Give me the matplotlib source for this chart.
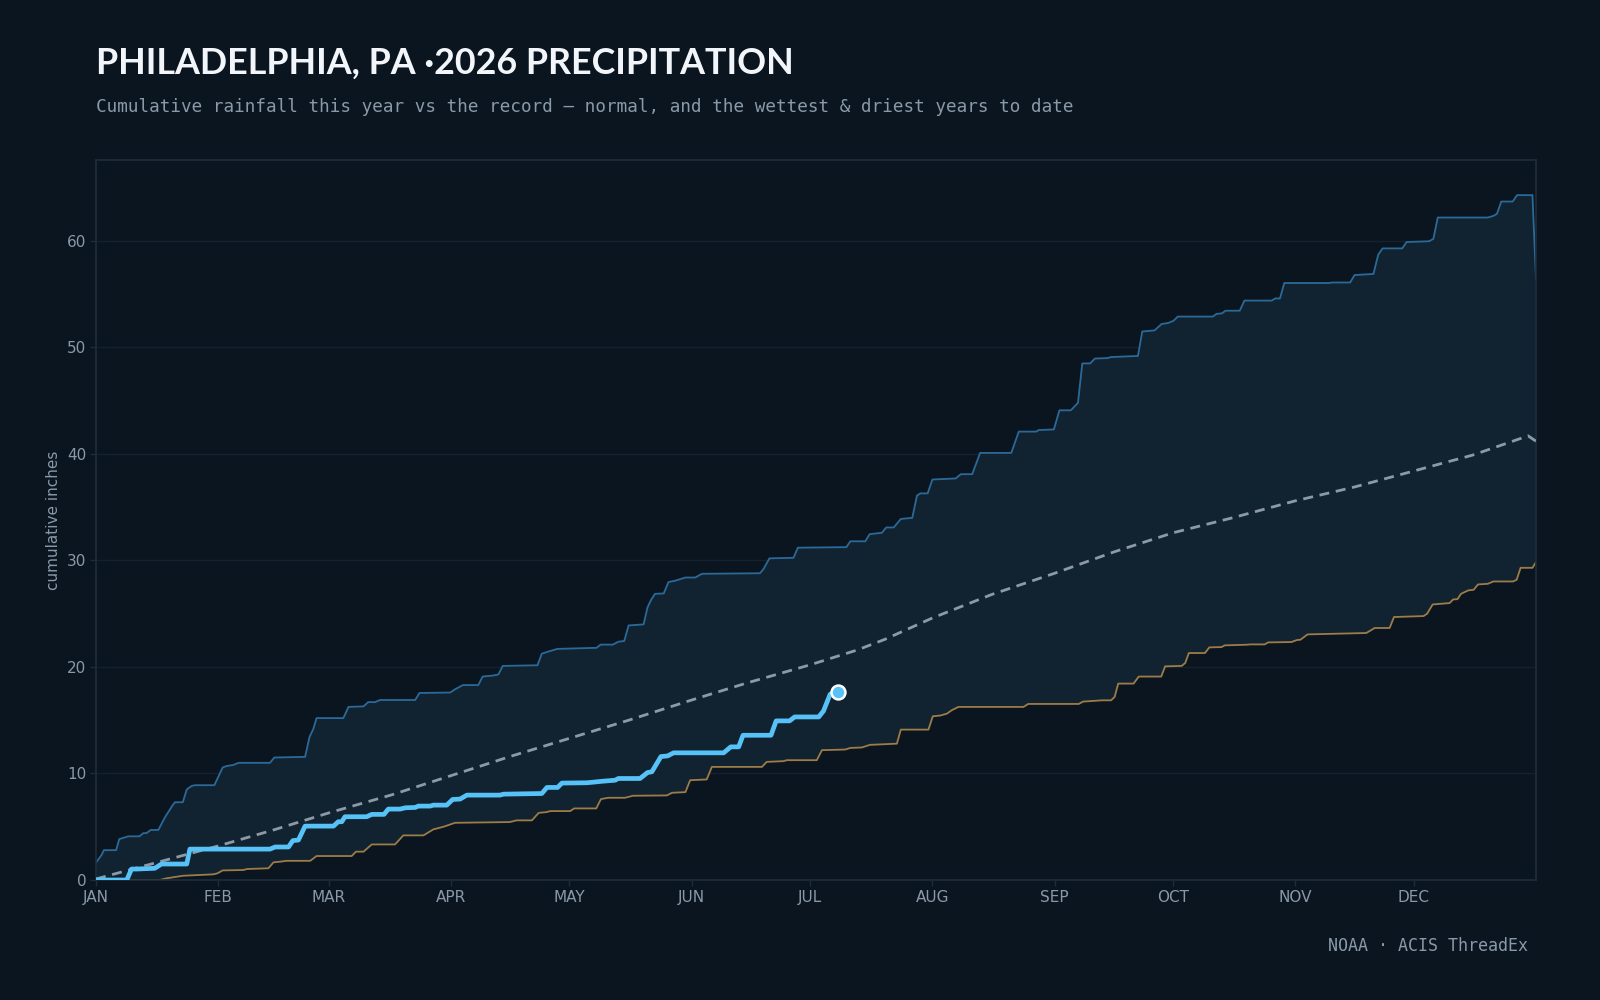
import matplotlib
matplotlib.use("Agg")
import matplotlib.pyplot as plt

# wettest year to date (record high cumulative), inches
wet_day = [0, 1.4, 2.0, 5.1, 5.9, 7.35, 8.2, 11.0, 12.0, 12.8, 13.9, 15.8, 17.5, 19.4, 20.0, 22.0,
           23.0, 24.3, 25.1, 30.0, 32.1, 33.1, 34.8, 36.1, 44.1, 45.2, 53.0, 54.1, 55.1, 55.9, 62.7,
           64.0, 67.8, 69.0, 70.7, 72.0, 80.9, 82.0, 89.8, 91.0, 93.0, 96.9, 98.0, 100.7, 102.0,
           103.1, 111.9, 113.0, 114.3, 115.1, 117.0, 126.9, 127.9, 131.0, 132.4, 133.9, 135.0,
           138.8, 139.8, 140.7, 141.7, 143.9, 145.1, 146.8, 149.4, 151.9, 153.6, 168.3, 169.2,
           170.7, 176.8, 177.9, 190.2, 191.2, 195.0, 196.1, 199.2, 200.3, 202.2, 204.0, 206.9,
           208.1, 209.0, 210.8, 212.0, 217.9, 219.2, 222.1, 224.1, 232.0, 233.9, 238.3, 239.0,
           242.8, 244.2, 247.1, 248.9, 250.0, 252.0, 253.2, 256.4, 257.3, 264.1, 265.2, 268.3,
           270.1, 271.8, 273.1, 274.2, 283.1, 284.0, 285.4, 286.3, 289.9, 291.1, 298.0, 298.9,
           300.1, 301.2, 312.5, 313.4, 317.9, 319.0, 323.8, 325.0, 326.1, 331.1, 332.2, 337.9,
           339.0, 340.1, 352.8, 354.2, 355.1, 356.2, 359.1, 360.2, 364.1, 365.0]
wet_in = [1.63, 2.34, 2.8, 2.8, 3.84, 4.0, 4.1, 4.1, 4.4, 4.4, 4.7, 4.7, 5.9, 7.0, 7.3, 7.3,
          8.5, 8.84, 8.9, 8.9, 10.56, 10.7, 10.8, 11.0, 11.0, 11.5, 11.56, 13.4, 14.2, 15.2, 15.2,
          16.25, 16.3, 16.7, 16.7, 16.9, 16.9, 17.56, 17.6, 17.9, 18.3, 18.3, 19.1, 19.2, 19.3,
          20.1, 20.16, 21.25, 21.4, 21.5, 21.7, 21.8, 22.1, 22.1, 22.37, 22.44, 23.9,
          24.0, 25.6, 26.3, 26.87, 26.9, 27.97, 28.1, 28.4, 28.4, 28.75, 28.8, 29.2,
          30.2, 30.25, 31.2, 31.25, 31.8, 31.8, 32.47, 32.6, 33.1, 33.1, 33.9, 34.0,
          36.1, 36.3, 36.3, 37.6, 37.7, 38.1, 38.1, 40.1, 40.1, 42.1, 42.1, 42.25,
          42.3, 44.1, 44.1, 44.8, 48.5, 48.5, 48.96, 49.0, 49.1, 49.2, 51.5, 51.6,
          52.2, 52.3, 52.5, 52.9, 52.9, 53.15, 53.2, 53.45, 53.45, 54.4, 54.4, 54.6,
          54.6, 56.05, 56.05, 56.1, 56.1, 56.8, 56.9, 58.7, 59.3, 59.3, 59.9, 59.97,
          60.2, 62.2, 62.2, 62.35, 62.55, 63.7, 63.7, 64.3, 64.3, 56.4]

# driest year to date (record low cumulative)
dry_day = [0, 16.2, 17.9, 22.1, 29.7, 30.8, 32.1, 37.4, 38.2, 43.7, 45.0, 46.7, 48.3, 54.3, 55.9,
           64.8, 65.9, 67.8, 69.9, 75.8, 77.9, 83.0, 85.5, 88.1, 91.0, 104.9, 106.6, 110.5, 112.2,
           114.3, 115.1, 120.2, 121.2, 126.8, 128.0, 129.9, 134.1, 136.1, 144.7, 146.0, 149.4,
           150.6, 154.8, 156.1, 168.8, 170.0, 174.3, 175.1, 182.7, 184.0, 189.9, 191.2, 194.1,
           196.2, 203.0, 204.0, 211.0, 212.1, 214.0, 215.7, 216.9, 218.6, 235.1, 236.3, 249.1,
           250.2, 255.0, 257.3, 258.2, 259.1, 263.0, 264.3, 270.0, 271.0, 275.2, 276.1, 277.0,
           281.1, 282.2, 285.3, 286.1, 291.7, 292.6, 296.2, 297.1, 303.0, 304.4, 305.3, 307.1,
           322.0, 324.1, 327.9, 329.0, 336.5, 337.4, 338.8, 343.1, 344.0, 345.1, 346.0, 347.8,
           349.2, 350.3, 352.8, 354.2, 359.2, 360.1, 361.1, 364.1, 365.0]
dry_in = [0, 0, 0.16, 0.4, 0.53, 0.63, 0.9, 0.94, 1.03, 1.1, 1.66, 1.72, 1.8, 1.8, 2.25,
          2.25, 2.66, 2.66, 3.34, 3.34, 4.19, 4.19, 4.75, 5.0, 5.37, 5.44, 5.6, 5.6, 6.3,
          6.38, 6.47, 6.47, 6.72, 6.72, 7.6, 7.72, 7.72, 7.91, 7.94, 8.19, 8.25,
          9.37, 9.44, 10.62, 10.62, 11.09, 11.16, 11.25, 11.25, 12.19, 12.25, 12.4, 12.44,
          12.69, 12.8, 14.12, 14.12, 15.37, 15.44, 15.62, 15.94, 16.25, 16.25, 16.53, 16.53,
          16.75, 16.87, 16.87, 17.19, 18.44, 18.44, 19.1, 19.1, 20.06, 20.1, 20.38, 21.31,
          21.31, 21.84, 21.87, 22.03, 22.09, 22.12, 22.12, 22.31, 22.34, 22.53, 22.56, 23.06,
          23.19, 23.66, 23.66, 24.69, 24.78, 25.0, 25.87, 26.0, 26.34, 26.37, 26.87, 27.19,
          27.25, 27.75, 27.81, 28.03, 28.03, 28.19, 29.31, 29.31, 29.84]

# normal cumulative precipitation
norm_day = [0, 15, 31, 45, 59, 75, 90, 105, 120, 135, 151, 165, 181, 193, 200, 212, 227, 243,
            258, 273, 288, 304, 319, 334, 349, 363, 365]
norm_in = [0.1, 1.6, 3.2, 4.7, 6.3, 8.0, 9.8, 11.6, 13.3, 15.0, 16.9, 18.5, 20.2, 21.6, 22.6,
           24.6, 26.8, 28.8, 30.8, 32.6, 34.0, 35.6, 36.9, 38.4, 39.9, 41.7, 41.2]

# 2026 so far
ytd_day = [0, 7.8, 9.0, 10.3, 14.9, 16.6, 23.0, 23.8, 44.1, 45.4, 48.8, 49.9, 51.3, 53.0, 60.2,
           61.4, 62.3, 63.1, 68.6, 69.9, 73.0, 74.1, 77.1, 78.4, 80.9, 81.7, 84.7, 85.5, 88.9,
           90.4, 92.3, 94.0, 102.4, 103.3, 113.0, 114.3, 117.0, 118.1, 124.5, 128.6, 131.6,
           132.4, 137.9, 139.8, 140.9, 143.2, 144.9, 146.4, 159.1, 160.9, 162.9, 164.0, 171.1,
           172.4, 175.8, 177.1, 183.2, 184.4, 186.1, 188.2]
ytd_in = [0, 0, 1.03, 1.03, 1.1, 1.5, 1.5, 2.9, 2.9, 3.1, 3.1, 3.7, 3.75, 5.06, 5.06,
          5.47, 5.47, 5.94, 5.94, 6.16, 6.16, 6.66, 6.66, 6.78, 6.81, 6.94, 6.94, 7.03, 7.03,
          7.56, 7.6, 7.97, 7.97, 8.06, 8.12, 8.69, 8.69, 9.1, 9.13, 9.28, 9.37,
          9.53, 9.53, 10.09, 10.16, 11.59, 11.65, 11.94, 11.94, 12.5, 12.5, 13.59, 13.59,
          14.94, 14.94, 15.31, 15.31, 15.87, 17.45, 17.65]

month_start = [0, 31, 59, 90, 120, 151, 181, 212, 243, 273, 304, 334]
month_lbl = ["JAN", "FEB", "MAR", "APR", "MAY", "JUN", "JUL", "AUG", "SEP", "OCT", "NOV", "DEC"]

BG = "#0b1520"
FILL = "#112230"
GRID = "#14222f"
SPINE = "#1b2e3e"
TXT = "#8a99a8"

fig = plt.figure(figsize=(16, 10), dpi=100, facecolor=BG)
ax = fig.add_axes([0.06, 0.12, 0.90, 0.72], facecolor=BG)

# record envelope: polygon from wettest forward and driest backward
ax.fill(wet_day + dry_day[::-1], wet_in + dry_in[::-1], color=FILL, lw=0, zorder=1)
ax.plot(wet_day, wet_in, color="#2b6a98", lw=1.3, zorder=2)
ax.plot(dry_day, dry_in, color="#9c7c48", lw=1.3, zorder=2)
ax.plot(norm_day, norm_in, color="#8d9aa6", lw=2, dashes=(3.6, 2.4), zorder=3)
ax.plot(ytd_day, ytd_in, color="#56c2f7", lw=3.4, solid_capstyle="round",
        solid_joinstyle="round", zorder=4)
ax.plot(ytd_day[-1:], ytd_in[-1:], "o", ms=10, mfc="#56c2f7", mec="white", mew=1.8, zorder=5)

ax.set_xlim(0, 365)
ax.set_ylim(0, 67.6)
ax.set_xticks(month_start)
ax.set_xticklabels(month_lbl)
ax.set_yticks(range(0, 61, 10))
ax.grid(axis="y", color=GRID, lw=1)
ax.set_axisbelow(True)
for s in ax.spines.values():
    s.set_color(SPINE)
    s.set_linewidth(1.2)
ax.tick_params(colors=TXT, labelsize=11, length=4, width=1, pad=3)
ax.tick_params(axis="both", color=SPINE)
ax.set_ylabel("cumulative inches", color=TXT, fontsize=11, labelpad=4)

fig.text(0.06, 0.926, "PHILADELPHIA, PA \u00b72026 PRECIPITATION", color="#f2f6fa",
         fontsize=25.8, fontweight="bold", family="Lato")
fig.text(0.06, 0.888, "Cumulative rainfall this year vs the record \u2014 normal, and the wettest & driest years to date",
         color=TXT, fontsize=12.7, family="DejaVu Sans Mono")
fig.text(0.955, 0.049, "NOAA \u00b7 ACIS ThreadEx", color=TXT, fontsize=12,
         family="DejaVu Sans Mono", ha="right")

fig.savefig("out.png", dpi=100, facecolor=BG)
